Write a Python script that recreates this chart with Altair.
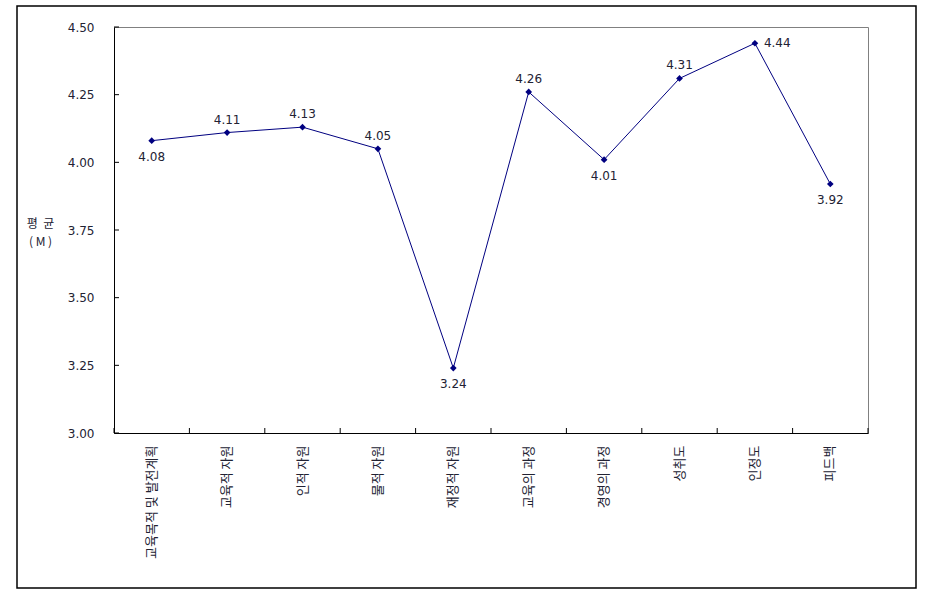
import altair as alt
import pandas as pd

categories = ["교육목적 및 발전계획", "교육적 자원", "인적 자원", "물적 자원", "재정적 자원",
              "교육의 과정", "경영의 과정", "성취도", "인정도", "피드백"]
values = [4.08, 4.11, 4.13, 4.05, 3.24, 4.26, 4.01, 4.31, 4.44, 3.92]
y_ticks = [3.00, 3.25, 3.50, 3.75, 4.00, 4.25, 4.50]

labels_above = ["교육적 자원", "인적 자원", "물적 자원", "교육의 과정", "성취도"]
labels_below = ["교육목적 및 발전계획", "재정적 자원", "경영의 과정", "피드백"]
labels_right = ["인정도"]

df = pd.DataFrame({"cat": categories, "val": values})
df["lab"] = df["val"].map(lambda v: f"{v:.2f}")
ticks_df = pd.DataFrame({"t": y_ticks})

W, H = 754, 406
FONT = "DejaVu Sans"
KFONT = "Noto Sans CJK KR"
NAVY = "#000080"
TXT = "#222233"

x_enc = alt.X("cat:N", sort=categories, scale=alt.Scale(paddingInner=0, paddingOuter=0),
              axis=alt.Axis(title=None, labelAngle=-90, ticks=False, labelPadding=12,
                            labelFont=KFONT, labelFontSize=13, labelColor=TXT,
                            domainColor="black", domainWidth=1, labelLimit=200))
y_scale = alt.Scale(domain=[3.0, 4.5], nice=False, zero=False)
y_enc = alt.Y("val:Q", scale=y_scale,
              axis=alt.Axis(values=y_ticks, format=".2f", ticks=False, labelPadding=20,
                            labelFont=FONT, labelFontSize=12, labelColor=TXT, grid=False,
                            domainColor="black", domainWidth=1,
                            title=["평\u00a0\u00a0균", "(\u00a0M\u00a0)"], titleAngle=0,
                            titleAlign="center",
                            titleBaseline="middle", titleX=-74, titleY=196,
                            titleFont=KFONT, titleFontSize=12, titleFontWeight="normal",
                            titleColor=TXT, titleLineHeight=18))

base = alt.Chart(df)

line = base.mark_line(color=NAVY, strokeWidth=1).encode(x=x_enc, y=y_enc)
pts = base.mark_point(shape="diamond", filled=True, color=NAVY, size=45, opacity=1).encode(
    x=alt.X("cat:N", sort=categories), y=alt.Y("val:Q"))

def txt(cats, **kw):
    return base.transform_filter(alt.FieldOneOfPredicate(field="cat", oneOf=cats)).mark_text(
        font=FONT, fontSize=12, color=TXT, **kw).encode(
        x=alt.X("cat:N", sort=categories), y=alt.Y("val:Q"), text="lab:N")

t_above = txt(labels_above, dy=-13, baseline="middle", align="center")
t_below = txt(labels_below, dy=16, baseline="middle", align="center")
t_right = txt(labels_right, dx=9, baseline="middle", align="left")

yticks = alt.Chart(ticks_df).mark_rule(color="black", strokeWidth=1).encode(
    y=alt.Y("t:Q", scale=y_scale), x=alt.value(0), x2=alt.value(5))
xticks = base.mark_rule(color="black", strokeWidth=1).encode(
    x=alt.X("cat:N", sort=categories, bandPosition=0), y=alt.value(H - 5), y2=alt.value(H))
xticks_end = alt.Chart(pd.DataFrame({"a": [0]})).mark_rule(color="black", strokeWidth=1).encode(
    x=alt.value(W), y=alt.value(H - 5), y2=alt.value(H))

frame = alt.Chart(pd.DataFrame({"a": [0]})).mark_rect(
    fill=None, stroke="black", strokeWidth=1.5, clip=False).encode(
    x=alt.value(-97), x2=alt.value(802), y=alt.value(-21), y2=alt.value(561))

chart = alt.layer(frame, line, yticks, xticks, xticks_end, pts, t_above, t_below, t_right).properties(
    width=W, height=H,
    autosize=alt.AutoSizeParams(type="none"),
    padding={"left": 114, "top": 27, "right": 57, "bottom": 166},
    background="white",
).configure_view(stroke="#808080", strokeWidth=1).configure_axis(domainColor="black")

chart.save("out.html", embed_options={"renderer": "svg", "actions": False})
